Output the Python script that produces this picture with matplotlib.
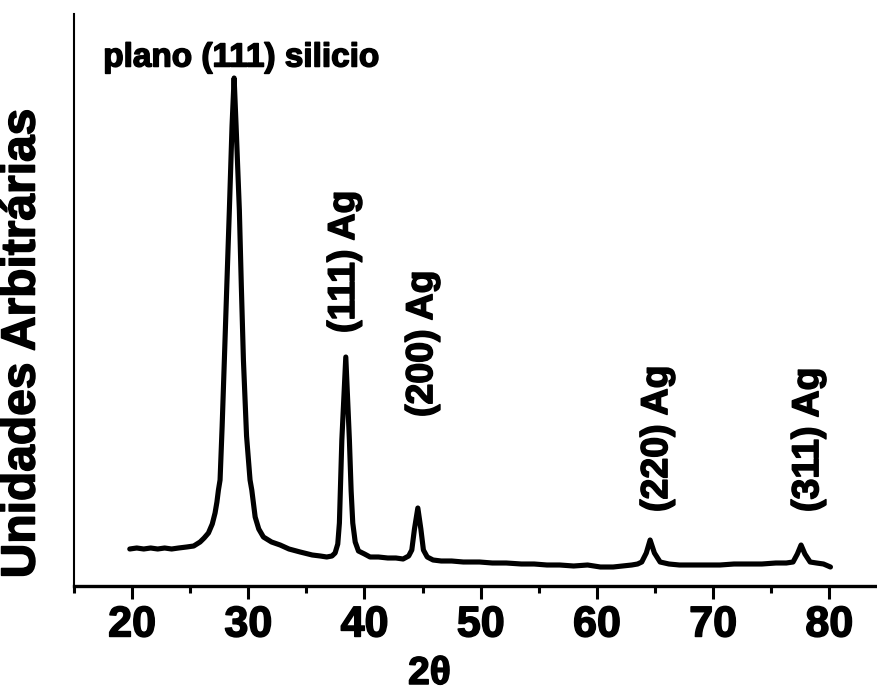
import matplotlib
matplotlib.use("Agg")
import matplotlib.pyplot as plt
import matplotlib.patheffects as pe
from matplotlib.ticker import MultipleLocator

# 2theta (degrees) and intensity (arbitrary units)
two_theta = [19.8, 20.4, 21.0, 21.6, 22.2, 22.8, 23.4, 24.0, 24.7, 25.3, 25.85, 26.2,
             26.57, 26.9, 27.14, 27.3, 27.43, 27.57, 27.75, 27.94, 28.15, 28.37, 28.6,
             28.78, 28.95, 29.23, 29.4, 29.58, 29.85, 30.15, 30.3, 30.59, 30.9, 31.3,
             32.0, 32.74, 33.5, 34.46, 35.5, 36.2, 36.75, 37.2, 37.47, 37.7, 37.84,
             38.05, 38.39, 38.70, 38.85, 38.99, 39.2, 39.48, 40.0, 40.48, 41.2, 42.0,
             42.7, 43.32, 43.8, 44.07, 44.3, 44.59, 44.85, 45.07, 45.4, 45.9, 46.6,
             47.5, 48.5, 49.9, 51.0, 52.2, 53.5, 54.6, 55.7, 56.8, 58.0, 59.2, 60.3,
             61.4, 62.2, 63.0, 63.5, 63.86, 64.25, 64.58, 64.95, 65.44, 66.2, 67.1,
             68.0, 69.2, 70.6, 71.8, 73.0, 74.2, 75.4, 76.3, 76.88, 77.25, 77.57,
             77.9, 78.35, 78.9, 79.5, 80.1]
intensity = [37, 38, 37, 38, 37, 38, 37, 38, 39, 40, 44, 48,
             53, 62, 73, 84, 96, 106, 160, 226, 300, 376, 460,
             508, 460, 376, 300, 226, 150, 106, 96, 69, 57, 49,
             44, 41, 37, 34, 31, 30, 29, 30, 33, 42, 63,
             146, 229, 146, 95, 63, 44, 35, 32, 29, 29, 28,
             28, 27, 30, 36, 57, 78, 57, 36, 29, 26, 25,
             25, 24, 24, 23, 23, 22, 22, 21, 21, 20, 21,
             19, 19, 20, 21, 22, 24, 33, 46, 33, 24, 22,
             21, 21, 21, 21, 22, 22, 22, 23, 23, 24, 32,
             41, 32, 24, 23, 22, 19]

tick_values = [20, 30, 40, 50, 60, 70, 80]
tick_labels = ["20", "30", "40", "50", "60", "70", "80"]

peak_labels = ["(111) Ag", "(200) Ag", "(220) Ag", "(311) Ag"]
peak_label_x = [38.24, 44.96, 65.18, 78.18]
peak_label_y = [253, 169, 74, 74]
si_label = "plano (111) silicio"
si_label_x = 29.42
si_label_y = 528

FONT = "Liberation Sans"
heavy = [pe.withStroke(linewidth=1.1, foreground="black")]

fig = plt.figure(figsize=(8.78, 6.93), dpi=100)
W, H = 878, 693
left_px, right_px, top_px, bot_px = 74, 887.4, 14, 586
ax = fig.add_axes([left_px / W, (H - bot_px) / H, (right_px - left_px) / W, (bot_px - top_px) / H])

ax.plot(two_theta, intensity, color="black", linewidth=3.7, solid_joinstyle="round",
        solid_capstyle="round")

ax.set_xlim(15, 85)
ax.set_ylim(0, 572)

for s in ["top", "right"]:
    ax.spines[s].set_visible(False)
ax.spines["left"].set_linewidth(1.5)
ax.spines["bottom"].set_linewidth(2.4)

ax.set_yticks([])
ax.set_xticks(tick_values)
ax.set_xticklabels(tick_labels, fontsize=31, fontweight="bold", family=FONT)
for t in ax.get_xticklabels():
    t.set_path_effects(heavy)
ax.xaxis.set_minor_locator(MultipleLocator(5))
ax.tick_params(axis="x", which="major", direction="out", length=9, width=2.2, pad=5)
ax.tick_params(axis="x", which="minor", direction="out", length=5, width=2.2)

for lab, x, y in zip(peak_labels, peak_label_x, peak_label_y):
    ax.text(x, y, lab, rotation=90, ha="center", va="bottom", fontsize=27,
            fontweight="bold", family=FONT, path_effects=heavy)
ax.text(si_label_x, si_label_y, si_label, ha="center", va="center", fontsize=24,
        fontweight="bold", family=FONT, path_effects=heavy)

fig.text(429.5 / W, 1 - 684 / H, "2θ", ha="center", va="baseline", fontsize=28,
         fontweight="bold", family=FONT, path_effects=heavy)
fig.text(22 / W, 1 - 343.5 / H, "Unidades Arbitrárias", rotation=90, ha="center",
         va="center", fontsize=34.5, fontweight="bold", family=FONT, path_effects=heavy)

fig.savefig("out.png", dpi=100)
